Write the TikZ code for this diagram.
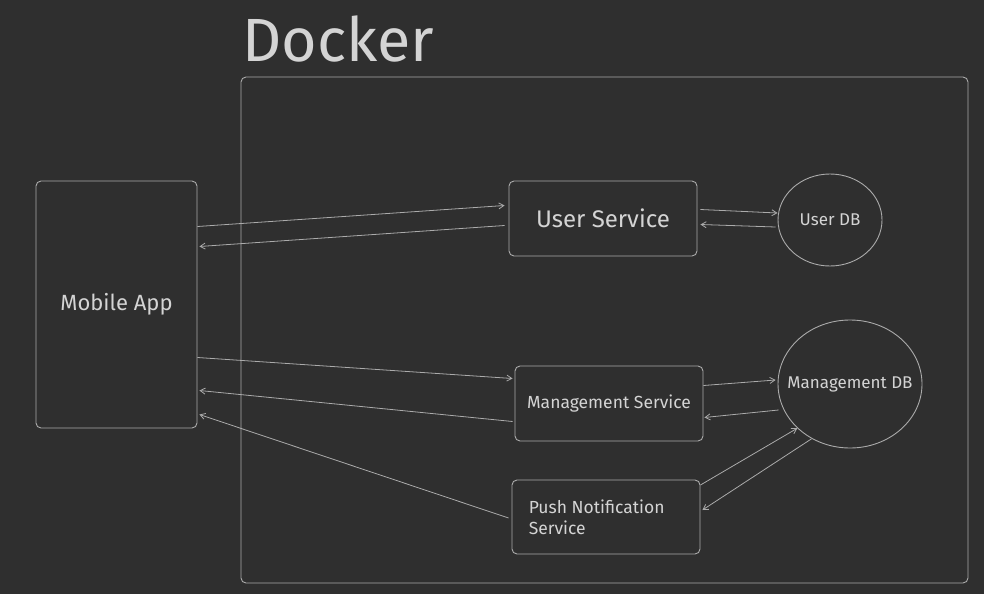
\documentclass[tikz,border=0pt]{standalone}
\usepackage{fontspec}
\setmainfont{Fira Sans}
\usetikzlibrary{arrows.meta,shapes.geometric}
\definecolor{bgcol}{HTML}{2F2F2F}
\definecolor{linecol}{HTML}{ABABAB}
\definecolor{txtcol}{HTML}{D4D4D4}
\begin{document}
\begin{tikzpicture}[x=1pt,y=-1pt,>={Straight Barb[length=5pt,width=6pt]},
    box/.style={draw=linecol,line width=0.9pt,rounded corners=5pt,inner sep=0pt,
        text=txtcol,minimum width=188pt,minimum height=75pt},
    db/.style={draw=linecol,line width=0.9pt,ellipse,inner sep=0pt,text=txtcol},
    link/.style={->,draw=linecol,line width=0.8pt}]
    \fill[bgcol] (0,0) rectangle (984,594);
    \node[draw=linecol,line width=0.9pt,rounded corners=5pt,minimum width=727pt,
        minimum height=506pt] (docker) at (604.5,330) {};
    \node[anchor=base west,text=txtcol,font=\fontsize{61}{61}\selectfont,inner sep=0pt]
        (title) at (242,62) {Docker};
    \node[box,minimum width=161pt,minimum height=247pt,font=\fontsize{22}{26}\selectfont]
        (mobile) at (116.5,304.5) {Mobile App};
    \node[box,font=\fontsize{24}{28}\selectfont] (usvc) at (603,218.5) {User Service};
    \node[box,font=\fontsize{17.5}{21}\selectfont] (msvc) at (609,403.5) {Management Service};
    \node[box,minimum height=74pt] (push) at (606,517) {};
    \node[anchor=west,align=left,text=txtcol,font=\fontsize{17.5}{21}\selectfont,inner sep=0pt]
        (pushtxt) at ([xshift=17pt]push.west) {Push Notification\\Service};
    \node[db,minimum width=104pt,minimum height=92pt,font=\fontsize{17}{20}\selectfont]
        (udb) at (830,220) {User DB};
    \node[db,minimum width=144pt,minimum height=128pt] (mdb) at (850,384) {};
    \node[text=txtcol,font=\fontsize{17}{20}\selectfont,inner sep=0pt]
        (mdbtxt) at (850,384) {Management DB};
    % mobile app <-> services
    \draw[link] ([yshift=78pt]mobile.east) -- ([xshift=-4pt,yshift=13pt]usvc.west);
    \draw[link] ([xshift=-4pt,yshift=-7pt]usvc.west) -- ([xshift=2pt,yshift=58pt]mobile.east);
    \draw[link] ([yshift=-53pt]mobile.east) -- ([xshift=-2pt,yshift=25pt]msvc.west);
    \draw[link] ([xshift=-2pt,yshift=-18pt]msvc.west) -- ([xshift=2pt,yshift=-86pt]mobile.east);
    \draw[link] ([xshift=-3pt,yshift=-1pt]push.west) -- ([xshift=2pt,yshift=-110pt]mobile.east);
    % services <-> databases
    \draw[link] ([xshift=3pt,yshift=9pt]usvc.east) -- ([yshift=7pt]udb.west);
    \draw[link] ([xshift=-2pt,yshift=-7pt]udb.west) -- ([xshift=3pt,yshift=-6pt]usvc.east);
    \draw[link] ([yshift=18pt]msvc.east) -- ([xshift=-2pt,yshift=4pt]mdb.west);
    \draw[link] ([xshift=1pt,yshift=-26pt]mdb.west) -- ([xshift=1pt,yshift=-14pt]msvc.east);
    \draw[link] ([yshift=32pt]push.east) -- (mdb.220);
    \draw[link] (mdb.235) -- ([xshift=2pt,yshift=7pt]push.east);
\end{tikzpicture}
\end{document}
